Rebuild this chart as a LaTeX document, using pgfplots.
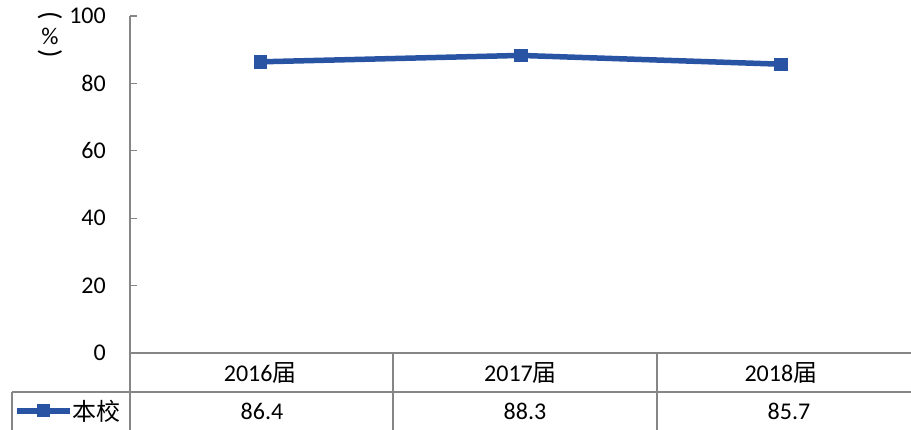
\documentclass[border=0pt]{standalone}
\usepackage{pgfplots}
\pgfplotsset{compat=1.18}
\usepackage{fontspec}
\setmainfont{Carlito}
\newfontfamily\cjk{Noto Sans CJK SC}
\definecolor{lineblue}{RGB}{41,83,163}
\definecolor{axgray}{RGB}{134,134,134}
\begin{document}
\fontsize{24}{28}\selectfont
\begin{tikzpicture}[x=1pt,y=1pt]
\path[use as bounding box] (0,0) rectangle (911,430);
\begin{axis}[
  at={(130pt,77pt)}, anchor=south west,
  scale only axis, width=781pt, height=337pt,
  xmin=-0.5, xmax=2.5, ymin=0, ymax=100,
  axis x line=bottom, axis y line=left,
  axis line style={-, draw=axgray, line width=1.3pt},
  ytick={0,20,40,60,80,100},
  xtick={0,1,2},
  xticklabels={2016{\cjk 届},2017{\cjk 届},2018{\cjk 届}},
  major x tick style={draw=none},
  major y tick style={draw=axgray, line width=1.3pt},
  tick align=inside, major tick length=7pt,
  yticklabel style={anchor=east, xshift=-16pt},
  xticklabel style={anchor=center, yshift=-20pt},
  tick label style={font=\fontsize{24}{28}\selectfont},
  /pgf/number format/assume math mode=true,
  clip=false,
]
\addplot[color=lineblue, line width=5.5pt, mark=square*, mark size=6.3pt,
  mark options={line width=0.5pt}] coordinates {(0,86.4) (1,88.3) (2,85.7)};
\end{axis}
% data table
\draw[axgray, line width=1.3pt] (12,38) -- (911,38);
\draw[axgray, line width=1.3pt] (12,38) -- (12,0);
\draw[axgray, line width=1.3pt] (130,77) -- (130,0);
\draw[axgray, line width=1.3pt] (393,77) -- (393,0);
\draw[axgray, line width=1.3pt] (657,77) -- (657,0);
\node at (262,19) {86.4};
\node at (525,19) {88.3};
\node at (789,19) {85.7};
\draw[lineblue, line width=5.5pt] (17,19) -- (70,19);
\fill[lineblue] (37,12.5) rectangle (50,25.5);
\node[anchor=west, inner sep=0] at (72,19) {\cjk 本校};
\node[rotate=-90, inner sep=0, font=\fontsize{28}{28}\selectfont] at (50,414) {(};
\node[inner sep=0, font=\fontsize{24}{28}\selectfont] at (50,394) {\%};
\node[rotate=-90, inner sep=0, font=\fontsize{28}{28}\selectfont] at (50,376) {)};
\end{tikzpicture}
\end{document}
